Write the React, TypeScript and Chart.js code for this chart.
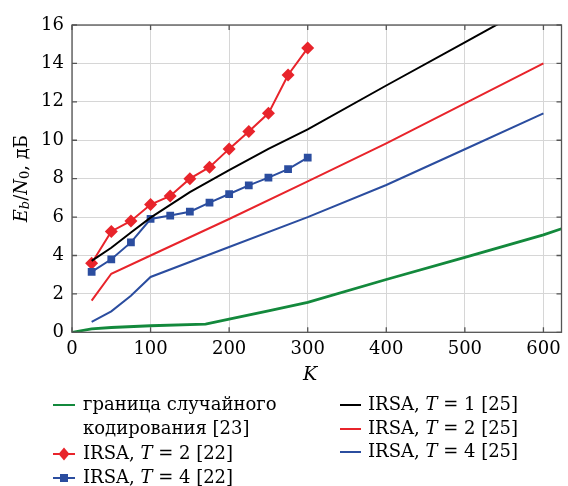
import React, { useEffect, useRef } from "react";
import { Chart, registerables } from "chart.js";
Chart.register(...registerables);

// ---- data ----
const kMarks = [25, 50, 75, 100, 125, 150, 175, 200, 225, 250, 275, 300];
const irsaT2ref22 = [3.6, 5.25, 5.8, 6.65, 7.1, 8.0, 8.6, 9.55, 10.45, 11.4, 13.4, 14.8];
const irsaT4ref22 = [3.15, 3.8, 4.68, 5.9, 6.08, 6.28, 6.75, 7.2, 7.65, 8.05, 8.5, 9.1];

const boundK = [0, 25, 50, 100, 170, 200, 250, 300, 400, 500, 600, 623];
const boundVals = [0, 0.18, 0.25, 0.34, 0.43, 0.69, 1.12, 1.56, 2.75, 3.9, 5.07, 5.39];

const irsaT1K = [25, 50, 75, 100, 150, 200, 250, 300, 400, 500, 560];
const irsaT1Vals = [3.72, 4.4, 5.2, 5.97, 7.3, 8.45, 9.55, 10.57, 12.85, 15.1, 16.45];

const irsaT2K = [25, 50, 100, 200, 300, 400, 500, 600];
const irsaT2Vals = [1.65, 3.05, 4.0, 5.9, 7.86, 9.84, 11.92, 14.0];

const irsaT4K = [25, 50, 75, 100, 200, 300, 400, 500, 600];
const irsaT4Vals = [0.54, 1.09, 1.9, 2.88, 4.44, 6.0, 7.67, 9.53, 11.4];

const xTicks = [0, 100, 200, 300, 400, 500, 600];
const yTicks = [0, 2, 4, 6, 8, 10, 12, 14, 16];

const GREEN = "#13893c";
const RED = "#e8242b";
const BLUE = "#2b4d9f";
const BLACK = "#000000";
const SERIF = "'DejaVu Serif', serif";

const pts = (xs: number[], ys: number[]) => xs.map((x, i) => ({ x, y: ys[i] }));

type Seg = { t: string; italic?: boolean; size?: number; dy?: number };

function drawSegs(ctx: CanvasRenderingContext2D, segs: Seg[], x: number, y: number, baseSize: number, align: "left" | "center") {
  const font = (s: Seg) => `${s.italic ? "italic " : ""}${s.size ?? baseSize}px ${SERIF}`;
  let total = 0;
  for (const s of segs) {
    ctx.font = font(s);
    total += ctx.measureText(s.t).width;
  }
  let cx = align === "center" ? x - total / 2 : x;
  ctx.textAlign = "left";
  ctx.textBaseline = "middle";
  for (const s of segs) {
    ctx.font = font(s);
    ctx.fillText(s.t, cx, y + (s.dy ?? 0));
    cx += ctx.measureText(s.t).width;
  }
}

const decorPlugin = {
  id: "decor",
  afterDraw(chart: any) {
    const ctx: CanvasRenderingContext2D = chart.ctx;
    const { left, right, top, bottom } = chart.chartArea;
    const xs = chart.scales.x;
    const ys = chart.scales.y;
    ctx.save();
    // frame
    ctx.strokeStyle = "#555";
    ctx.lineWidth = 1.3;
    ctx.strokeRect(left, top, right - left, bottom - top);
    // inward ticks
    ctx.beginPath();
    for (const v of xTicks) {
      const px = xs.getPixelForValue(v);
      ctx.moveTo(px, bottom);
      ctx.lineTo(px, bottom - 5);
      ctx.moveTo(px, top);
      ctx.lineTo(px, top + 5);
    }
    for (const v of yTicks) {
      const py = ys.getPixelForValue(v);
      ctx.moveTo(left, py);
      ctx.lineTo(left + 5, py);
      ctx.moveTo(right, py);
      ctx.lineTo(right - 5, py);
    }
    ctx.stroke();

    ctx.fillStyle = "#000";
    // x title
    drawSegs(ctx, [{ t: "K", italic: true }], 310, 375, 19, "center");
    // y title
    ctx.save();
    ctx.translate(22, (top + bottom) / 2);
    ctx.rotate(-Math.PI / 2);
    drawSegs(
      ctx,
      [
        { t: "E", italic: true },
        { t: "b", italic: true, size: 13, dy: 4 },
        { t: "/" },
        { t: "N", italic: true },
        { t: "0", size: 13, dy: 4 },
        { t: ", дБ" },
      ],
      0,
      0,
      18,
      "center"
    );
    ctx.restore();

    // legend
    const fs = 18;
    const line = (x1: number, x2: number, y: number, color: string, w = 2) => {
      ctx.strokeStyle = color;
      ctx.lineWidth = w;
      ctx.beginPath();
      ctx.moveTo(x1, y);
      ctx.lineTo(x2, y);
      ctx.stroke();
    };
    const irsa = (T: string, ref: string): Seg[] => [
      { t: "IRSA, " },
      { t: "T", italic: true },
      { t: ` = ${T} [${ref}]` },
    ];
    // left column
    const lx1 = 53, lx2 = 75, ltx = 83;
    line(lx1, lx2, 405, GREEN, 2);
    ctx.fillStyle = "#000";
    drawSegs(ctx, [{ t: "граница случайного" }], ltx, 405, fs, "left");
    drawSegs(ctx, [{ t: "кодирования [23]" }], ltx, 429, fs, "left");
    line(lx1, lx2, 454, RED, 2);
    ctx.fillStyle = RED;
    ctx.beginPath();
    const mx = (lx1 + lx2) / 2;
    ctx.moveTo(mx, 454 - 6.5);
    ctx.lineTo(mx + 5.5, 454);
    ctx.lineTo(mx, 454 + 6.5);
    ctx.lineTo(mx - 5.5, 454);
    ctx.closePath();
    ctx.fill();
    ctx.fillStyle = "#000";
    drawSegs(ctx, irsa("2", "22"), ltx, 454, fs, "left");
    line(lx1, lx2, 478, BLUE, 2);
    ctx.fillStyle = BLUE;
    ctx.fillRect(mx - 4, 478 - 4, 8, 8);
    ctx.fillStyle = "#000";
    drawSegs(ctx, irsa("4", "22"), ltx, 478, fs, "left");
    // right column
    const rx1 = 340, rx2 = 361, rtx = 368;
    line(rx1, rx2, 405, BLACK, 2);
    drawSegs(ctx, irsa("1", "25"), rtx, 405, fs, "left");
    line(rx1, rx2, 429, RED, 2);
    ctx.fillStyle = "#000";
    drawSegs(ctx, irsa("2", "25"), rtx, 429, fs, "left");
    line(rx1, rx2, 452, BLUE, 2);
    ctx.fillStyle = "#000";
    drawSegs(ctx, irsa("4", "25"), rtx, 452, fs, "left");
    ctx.restore();
  },
};

export default function App() {
  const ref = useRef<HTMLCanvasElement | null>(null);
  useEffect(() => {
    if (!ref.current) return;
    const tickFont = { family: SERIF, size: 18 };
    const chart = new Chart(ref.current, {
      type: "line",
      data: {
        datasets: [
          {
            label: "граница случайного кодирования [23]",
            data: pts(boundK, boundVals),
            borderColor: GREEN,
            borderWidth: 2.8,
            pointRadius: 0,
          },
          {
            label: "IRSA, T = 1 [25]",
            data: pts(irsaT1K, irsaT1Vals),
            borderColor: BLACK,
            borderWidth: 2,
            pointRadius: 0,
          },
          {
            label: "IRSA, T = 2 [25]",
            data: pts(irsaT2K, irsaT2Vals),
            borderColor: RED,
            borderWidth: 2,
            pointRadius: 0,
          },
          {
            label: "IRSA, T = 4 [25]",
            data: pts(irsaT4K, irsaT4Vals),
            borderColor: BLUE,
            borderWidth: 2,
            pointRadius: 0,
          },
          {
            label: "IRSA, T = 4 [22]",
            data: pts(kMarks, irsaT4ref22),
            borderColor: BLUE,
            backgroundColor: BLUE,
            borderWidth: 2,
            pointStyle: "rect",
            pointRadius: 5.5,
            pointBorderWidth: 0,
          },
          {
            label: "IRSA, T = 2 [22]",
            data: pts(kMarks, irsaT2ref22),
            borderColor: RED,
            backgroundColor: RED,
            borderWidth: 2,
            pointStyle: "rectRot",
            pointRadius: 6.5,
            pointBorderWidth: 0,
          },
        ],
      },
      options: {
        responsive: false,
        devicePixelRatio: 1,
        animation: false,
        events: [],
        layout: { padding: { top: 25, left: 0, right: 2, bottom: 123.7 } },
        plugins: { legend: { display: false }, tooltip: { enabled: false } },
        scales: {
          x: {
            type: "linear",
            min: 0,
            max: 623,
            afterBuildTicks: (s: any) => {
              s.ticks = xTicks.map((v) => ({ value: v }));
            },
            afterFit: (s: any) => {
              s.height = 30;
            },
            grid: { color: "#d6d6d6", drawTicks: false, lineWidth: 1 },
            border: { display: false },
            ticks: { font: tickFont, color: "#000", padding: 6, maxRotation: 0, autoSkip: false },
          },
          y: {
            type: "linear",
            min: 0,
            max: 16,
            afterBuildTicks: (s: any) => {
              s.ticks = yTicks.map((v) => ({ value: v }));
            },
            afterFit: (s: any) => {
              s.width = 72;
            },
            grid: { color: "#d6d6d6", drawTicks: false, lineWidth: 1 },
            border: { display: false },
            ticks: { font: tickFont, color: "#000", padding: 8, autoSkip: false },
          },
        },
      },
      plugins: [decorPlugin],
    } as any);
    return () => chart.destroy();
  }, []);
  return (
    <div style={{ position: "absolute", left: 0, top: 0, width: 568, height: 486, background: "#fff" }}>
      <canvas ref={ref} width={568} height={486} style={{ display: "block" }} />
    </div>
  );
}
